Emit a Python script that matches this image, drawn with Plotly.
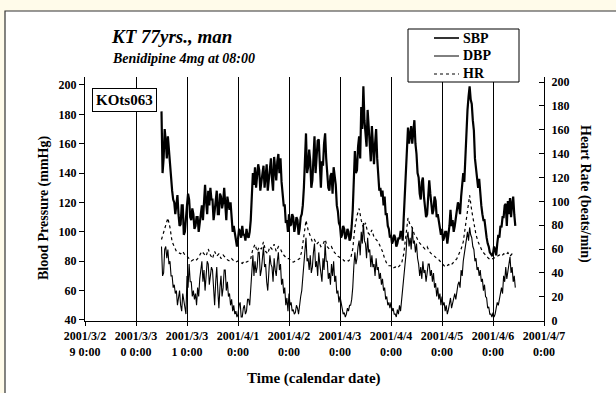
import plotly.graph_objects as go
import pandas as pd

# ---------------- data ----------------
# blood pressure readings every 30 min, heart rate summarised hourly
bp_start = "2001-03-30 12:00"
hr_start = "2001-03-30 12:00"

sbp = [
    182, 140, 150, 170, 162, 150, 165, 155, 150, 140, 128, 122, 120, 112, 117, 125, 112, 104, 105, 118, 118, 98, 100, 112,
    118, 126, 122, 110, 108, 116, 112, 102, 104, 110, 110, 100, 106, 116, 118, 108, 124, 132, 120, 112, 128, 118, 130, 122,
    122, 108, 114, 124, 128, 112, 112, 126, 124, 116, 120, 130, 116, 108, 124, 118, 115, 120, 106, 100, 104, 98, 96, 90,
    95, 102, 100, 96, 104, 98, 98, 94, 102, 97, 96, 100, 108, 125, 140, 132, 144, 130, 136, 146, 142, 128, 134, 142,
    145, 130, 138, 146, 128, 136, 142, 150, 136, 128, 151, 140, 135, 148, 153, 140, 150, 134, 128, 118, 118, 106, 108, 100,
    112, 104, 105, 112, 110, 100, 104, 110, 108, 98, 102, 110, 112, 118, 130, 150, 167, 140, 144, 156, 148, 130, 135, 150,
    165, 140, 150, 162, 163, 142, 130, 148, 145, 160, 167, 150, 142, 130, 128, 138, 140, 126, 144, 136, 132, 118, 114, 106,
    104, 96, 98, 104, 102, 95, 97, 102, 100, 94, 96, 104, 115, 135, 155, 140, 142, 158, 165, 150, 185, 170, 199, 176,
    168, 158, 183, 170, 160, 148, 172, 160, 146, 160, 170, 150, 137, 128, 130, 124, 128, 118, 124, 112, 112, 104, 102, 96,
    98, 92, 94, 98, 96, 90, 92, 96, 95, 100, 100, 94, 110, 126, 142, 165, 171, 160, 165, 172, 160, 168, 176, 160,
    153, 140, 137, 126, 122, 134, 137, 124, 118, 110, 112, 124, 135, 126, 120, 112, 115, 124, 121, 110, 112, 106, 104, 98,
    102, 94, 96, 100, 100, 92, 98, 104, 115, 104, 108, 100, 104, 110, 112, 120, 118, 112, 124, 132, 140, 134, 153, 170,
    183, 192, 199, 190, 187, 176, 169, 150, 142, 136, 130, 136, 124, 118, 112, 108, 108, 100, 96, 92, 90, 86, 85, 84,
    85, 90, 88, 84, 92, 98, 96, 104, 103, 110, 110, 118, 119, 104, 121, 112, 123, 110, 119, 124, 112, 104,
]

dbp = [
    90, 70, 72, 88, 90, 82, 88, 78, 80, 70, 70, 62, 64, 58, 60, 50, 55, 60, 50, 46, 58, 52, 46, 44,
    70, 62, 78, 66, 66, 56, 60, 54, 58, 50, 62, 56, 68, 74, 80, 66, 74, 60, 72, 80, 78, 64, 70, 76,
    74, 58, 50, 66, 76, 60, 48, 62, 70, 56, 62, 74, 74, 60, 66, 56, 58, 50, 54, 46, 50, 44, 46, 42,
    44, 50, 52, 42, 42, 48, 50, 44, 46, 54, 54, 50, 60, 74, 84, 70, 80, 72, 76, 86, 86, 70, 74, 82,
    90, 76, 78, 66, 60, 72, 84, 78, 76, 66, 82, 74, 70, 80, 86, 74, 78, 64, 68, 58, 62, 50, 55, 46,
    58, 50, 52, 46, 47, 44, 45, 50, 48, 44, 52, 56, 60, 70, 78, 90, 96, 80, 82, 74, 84, 72, 76, 86,
    92, 76, 80, 70, 86, 78, 72, 66, 82, 74, 92, 80, 80, 68, 72, 64, 78, 70, 80, 66, 70, 58, 60, 52,
    56, 50, 48, 44, 45, 42, 44, 48, 46, 50, 50, 54, 62, 76, 86, 78, 82, 90, 94, 84, 100, 92, 106, 94,
    92, 82, 96, 86, 88, 76, 84, 76, 78, 70, 82, 74, 76, 68, 72, 64, 68, 60, 62, 54, 56, 50, 52, 48,
    52, 46, 48, 44, 44, 42, 47, 44, 50, 46, 54, 58, 66, 76, 84, 96, 100, 90, 96, 88, 103, 92, 94, 86,
    92, 82, 78, 70, 76, 68, 80, 72, 74, 66, 72, 78, 78, 70, 74, 66, 72, 62, 65, 56, 62, 54, 58, 50,
    56, 50, 52, 46, 50, 44, 47, 52, 55, 48, 52, 56, 58, 54, 60, 64, 66, 62, 74, 70, 80, 86, 92, 96,
    100, 94, 103, 98, 96, 90, 88, 80, 82, 74, 76, 70, 74, 66, 68, 60, 64, 56, 55, 48, 49, 44, 44, 42,
    45, 42, 44, 48, 52, 50, 55, 60, 62, 58, 70, 66, 76, 68, 74, 80, 83, 72, 76, 66, 70, 62,
]

hr = [
    68, 74, 82, 86, 78, 66, 62, 58, 57, 56, 58, 55,
    54, 52, 50, 51, 50, 52, 55, 58, 56, 54, 60, 55, 52, 58, 54, 56, 52, 55, 53, 51, 50, 52, 50, 49,
    50, 49, 48, 50, 49, 50, 52, 60, 64, 58, 62, 60, 66, 58, 56, 62, 60, 64, 58, 62, 60, 56, 54, 52,
    52, 50, 49, 50, 51, 52, 58, 72, 84, 76, 70, 66, 68, 64, 66, 62, 64, 68, 62, 60, 62, 58, 56, 54,
    53, 52, 50, 51, 50, 52, 60, 78, 88, 94, 84, 78, 82, 74, 72, 76, 70, 68, 66, 62, 58, 52, 48, 46,
    46, 44, 45, 44, 46, 48, 56, 74, 86, 80, 78, 72, 70, 66, 64, 62, 60, 62, 58, 56, 55, 53, 52, 50,
    48, 46, 45, 47, 46, 48, 50, 52, 56, 60, 66, 80, 94, 105, 92, 82, 72, 66, 62, 58, 56, 54, 52, 51,
    52, 53, 54, 55, 54, 56, 55, 57, 54, 56, 55,
]

tick_dates = ["2001-03-29", "2001-03-30", "2001-03-31", "2001-04-01", "2001-04-02",
              "2001-04-03", "2001-04-04", "2001-04-05", "2001-04-06", "2001-04-07"]
tick_labels = ["2001/3/2<br>9 0:00", "2001/3/3<br>0 0:00", "2001/3/3<br>1 0:00",
               "2001/4/1<br>0:00", "2001/4/2<br>0:00", "2001/4/3<br>0:00",
               "2001/4/4<br>0:00", "2001/4/5<br>0:00", "2001/4/6<br>0:00",
               "2001/4/7<br>0:00"]
bp_ticks = [40, 60, 80, 100, 120, 140, 160, 180, 200]
hr_ticks = [0, 20, 40, 60, 80, 100, 120, 140, 160, 180, 200]
series_names = ["SBP", "DBP", "HR"]

sbp_t = pd.date_range(bp_start, periods=len(sbp), freq="30min")
dbp_t = pd.date_range(bp_start, periods=len(dbp), freq="30min")
hr_t = pd.date_range(hr_start, periods=len(hr), freq="h")

# ---------------- figure ----------------
FONT = "Liberation Serif"
W, H = 616, 393
L, R, T, B = 85, 72, 77, 72
pw, ph = W - L - R, H - T - B


def px(x):
    return (x - L) / pw


def py(y):
    return (H - B - y) / ph


styles = [dict(color="black", width=2.2),
          dict(color="black", width=1.1),
          dict(color="black", width=1.2, dash="dot")]

fig = go.Figure()
fig.add_trace(go.Scatter(x=sbp_t, y=sbp, name=series_names[0], mode="lines",
                         line=styles[0], showlegend=False))
fig.add_trace(go.Scatter(x=dbp_t, y=dbp, name=series_names[1], mode="lines",
                         line=styles[1], showlegend=False))
fig.add_trace(go.Scatter(x=hr_t, y=hr, name=series_names[2], mode="lines", yaxis="y2",
                         line=styles[2], showlegend=False))

fig.update_layout(
    width=W, height=H,
    margin=dict(l=L, r=R, t=T, b=B, pad=0),
    paper_bgcolor="#fffbea",
    plot_bgcolor="white",
    font=dict(family=FONT, color="black", size=12),
    showlegend=False,
    xaxis=dict(
        type="date",
        range=["2001-03-29 00:00", "2001-04-07 00:00"],
        tickvals=tick_dates, ticktext=tick_labels,
        tickfont=dict(family=FONT, size=12, weight="bold"),
        showline=True, linecolor="black", linewidth=1,
        ticks="outside", ticklen=4, tickcolor="black",
        showgrid=True, gridcolor="black", gridwidth=1,
        zeroline=False,
    ),
    yaxis=dict(
        range=[39.3, 205.4],
        tickvals=bp_ticks,
        tickfont=dict(family=FONT, size=12, weight="bold"),
        showline=True, linecolor="black", linewidth=1,
        ticks="outside", ticklen=5, tickcolor="black",
        showgrid=False, zeroline=False,
    ),
    yaxis2=dict(
        overlaying="y", side="right",
        range=[-0.3, 204.2],
        tickvals=hr_ticks,
        tickfont=dict(family=FONT, size=12, weight="bold"),
        showline=True, linecolor="black", linewidth=1,
        ticks="inside", ticklen=5, tickcolor="black",
        ticklabelstandoff=4,
        showgrid=False, zeroline=False,
    ),
)

# white panel with a dark frame (the page behind the chart)
fig.add_shape(type="rect", xref="paper", yref="paper", layer="below",
              x0=px(5), x1=px(640), y0=py(420), y1=py(11),
              fillcolor="white", line=dict(color="#333333", width=1.2))

# legend box drawn as in the original
fig.add_shape(type="rect", xref="paper", yref="paper", layer="above",
              x0=px(408), x1=px(519), y0=py(82), y1=py(29),
              fillcolor="white", line=dict(color="black", width=1))
for i, (name, st) in enumerate(zip(series_names, styles)):
    yy = 38 + i * 18
    fig.add_shape(type="line", xref="paper", yref="paper", layer="above",
                  x0=px(434), x1=px(459), y0=py(yy), y1=py(yy),
                  line=dict(color="black", width=max(1.0, st["width"] - 0.6),
                            dash=st.get("dash", "solid")))
    fig.add_annotation(xref="paper", yref="paper", x=px(461), y=py(yy),
                       xanchor="left", yanchor="middle", showarrow=False,
                       text="<b>%s</b>" % name,
                       font=dict(family=FONT, size=14, color="black"))

# titles and labels
fig.add_annotation(xref="paper", yref="paper", x=px(109), y=py(36),
                   xanchor="left", yanchor="middle", showarrow=False,
                   text="<b><i>KT 77yrs., man</i></b>",
                   font=dict(family=FONT, size=19, color="black"))
fig.add_annotation(xref="paper", yref="paper", x=px(110), y=py(58),
                   xanchor="left", yanchor="middle", showarrow=False,
                   text="<b><i>Benidipine 4mg at 08:00</i></b>",
                   font=dict(family=FONT, size=14, color="black"))
fig.add_annotation(xref="paper", yref="paper", x=px(124.5), y=py(99.5),
                   xanchor="center", yanchor="middle", showarrow=False,
                   text="<b>KOts063</b>", bgcolor="white",
                   bordercolor="black", borderwidth=1, borderpad=3,
                   font=dict(family=FONT, size=15, color="black"))
fig.add_annotation(xref="paper", yref="paper", x=px(44), y=py(208),
                   xanchor="center", yanchor="middle", showarrow=False,
                   textangle=-90, text="<b>Blood Pressure (mmHg)</b>",
                   font=dict(family=FONT, size=14, color="black"))
fig.add_annotation(xref="paper", yref="paper", x=px(585), y=py(194),
                   xanchor="center", yanchor="middle", showarrow=False,
                   textangle=90, text="<b>Heart Rate (beats/min)</b>",
                   font=dict(family=FONT, size=14, color="black"))
fig.add_annotation(xref="paper", yref="paper", x=px(314), y=py(378),
                   xanchor="center", yanchor="middle", showarrow=False,
                   text="<b>Time (calendar date)</b>",
                   font=dict(family=FONT, size=15, color="black"))

fig.write_html("out.html",
               config={"displayModeBar": False},
               post_script="document.body.style.margin='0';document.body.style.padding='0';")
